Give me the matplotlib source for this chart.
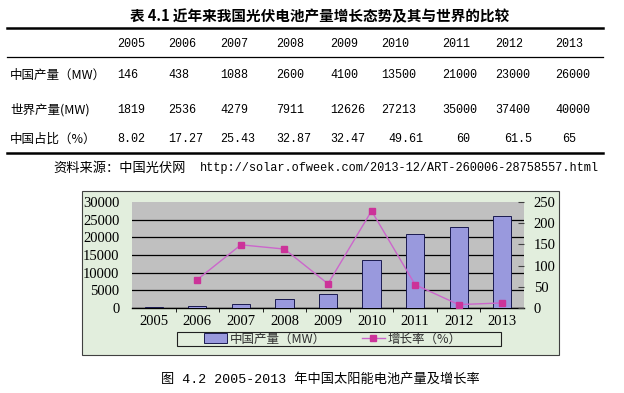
import numpy as np
import matplotlib
matplotlib.use("Agg")
import matplotlib.pyplot as plt
from matplotlib.lines import Line2D
from matplotlib.patches import Rectangle

# ---- data -------------------------------------------------------------
years = ['2005', '2006', '2007', '2008', '2009', '2010', '2011', '2012', '2013']
china_mw = [146, 438, 1088, 2600, 4100, 13500, 21000, 23000, 26000]
world_mw = [1819, 2536, 4279, 7911, 12626, 27213, 35000, 37400, 40000]
china_share = ['8.02', '17.27', '25.43', '32.87', '32.47', '49.61', '60', '61.5', '65']
growth_pct = [np.nan, 67, 149, 139, 57, 229, 55, 8, 12]

row_labels = ['中国产量（MW）', '世界产量(MW)', '中国占比（%）']
table_title = '表 4.1 近年来我国光伏电池产量增长态势及其与世界的比较'
source_cn = '资料来源：中国光伏网'
source_url = 'http://solar.ofweek.com/2013-12/ART-260006-28758557.html'
caption = '图 4.2 2005-2013 年中国太阳能电池产量及增长率'
legend_labels = ['中国产量（MW）', '增长率（%）']

# ---- layout helpers (pixel -> figure coords) --------------------------
W, H = 624, 393
def fx(px):
    return px / W
def fy(py):
    return 1 - py / H

MONO = ['Liberation Mono', 'Noto Sans CJK SC']
CJK = ['Noto Sans CJK SC', 'DejaVu Sans']
SERIF = ['Liberation Serif', 'DejaVu Serif']

fig = plt.figure(figsize=(W / 100, H / 100), dpi=100)
fig.patch.set_facecolor('white')

# ---- table ------------------------------------------------------------
fig.text(fx(320), fy(16), table_title, family=CJK, weight='bold', size=10.5,
         ha='center', va='center')
for y, lw in [(28, 1.8), (57, 0.9), (153, 1.8)]:
    fig.add_artist(Line2D([fx(7), fx(603)], [fy(y), fy(y)], color='black',
                          lw=lw, transform=fig.transFigure))

col_x = [117, 168, 220, 276, 330, 381, 442, 495, 555]
share_shift = [0, 0, 0, 0, 0, 7, 14, 9, 7]
for cx, yr in zip(col_x, years):
    fig.text(fx(cx), fy(44), yr, family=MONO, size=8.5, va='center')

rows = [china_mw, world_mw, china_share]
row_y = [75, 110, 139]
for ry, lab, vals in zip(row_y, row_labels, rows):
    fig.text(fx(10), fy(ry), lab, family=CJK, size=9, va='center')
    for i, (cx, v) in enumerate(zip(col_x, vals)):
        shift = share_shift[i] if vals is china_share else 0
        fig.text(fx(cx + shift), fy(ry), str(v), family=MONO, size=8.5, va='center')

fig.text(fx(53), fy(168), source_cn, family=CJK, size=9.5, va='center')
fig.text(fx(200), fy(168), source_url, family=MONO, size=8.6, va='center')

# ---- chart frame ------------------------------------------------------
frame_bg = '#E2EEDD'
fig.add_artist(Rectangle((fx(82), fy(355)), (559 - 82) / W, (355 - 191) / H,
                         transform=fig.transFigure, facecolor=frame_bg,
                         edgecolor='#404040', lw=0.8, zorder=-1))

ax = fig.add_axes([fx(132), fy(308), (524 - 132) / W, (308 - 202) / H])
ax.set_facecolor('#C0C0C0')
x = np.arange(len(years))
ax.bar(x, china_mw, width=0.42, color='#9999DD', edgecolor='#1a1a50', lw=0.7, zorder=3)
ax.set_xlim(-0.5, len(years) - 0.5)
ax.set_ylim(0, 30000)
ax.set_yticks(np.arange(0, 30001, 5000))
ax.yaxis.grid(True, color='black', lw=0.9)
ax.get_ygridlines()[-1].set_visible(False)
ax.set_axisbelow(True)
for s in ['left', 'top', 'right']:
    ax.spines[s].set_visible(False)
ax.spines['bottom'].set_color('black')
ax.spines['bottom'].set_linewidth(1.0)
ax.set_xticks(x)
ax.set_xticklabels(years)
ax.set_xticks(x[:-1] + 0.5, minor=True)
ax.tick_params(axis='x', which='major', length=0, pad=5)
ax.tick_params(axis='x', which='minor', length=3, direction='out', color='black')
ax.tick_params(axis='y', length=0, pad=9)
for t in ax.get_xticklabels() + ax.get_yticklabels():
    t.set_family(SERIF)
    t.set_size(10.5)

ax2 = ax.twinx()
ax2.plot(x, growth_pct, color='#CC66CC', lw=1.0, marker='s', ms=5,
         mfc='#CC3399', mec='#CC3399', zorder=4)
ax2.set_ylim(0, 250)
ax2.set_yticks(np.arange(0, 251, 50))
for s in ax2.spines.values():
    s.set_visible(False)
ax2.tick_params(axis='y', direction='in', length=4, pad=7, color='#404040')
for t in ax2.get_yticklabels():
    t.set_family(SERIF)
    t.set_size(10.5)

# ---- legend -----------------------------------------------------------
fig.add_artist(Rectangle((fx(177), fy(346)), (501 - 177) / W, 14 / H,
                         transform=fig.transFigure, facecolor=frame_bg,
                         edgecolor='#202020', lw=0.8, zorder=1))
handles = [Rectangle((0, 0), 1, 1, facecolor='#9999DD', edgecolor='#1a1a50', lw=0.7),
           Line2D([], [], color='#CC66CC', lw=1.0, marker='s', ms=5,
                  mfc='#CC3399', mec='#CC3399')]
leg = fig.legend(handles, legend_labels, loc='center', bbox_to_anchor=(fx(333), fy(339)),
                 ncol=2, frameon=False, prop={'family': CJK, 'size': 9},
                 handlelength=1.8, handleheight=0.9, handletextpad=0.25,
                 columnspacing=2.9, borderpad=0, borderaxespad=0)
leg.set_zorder(2)
for t in leg.get_texts():
    t.set_color('#303030')

fig.text(fx(320), fy(379), caption, family=MONO, size=9.5, ha='center', va='center')

fig.savefig('out.png', dpi=100)
